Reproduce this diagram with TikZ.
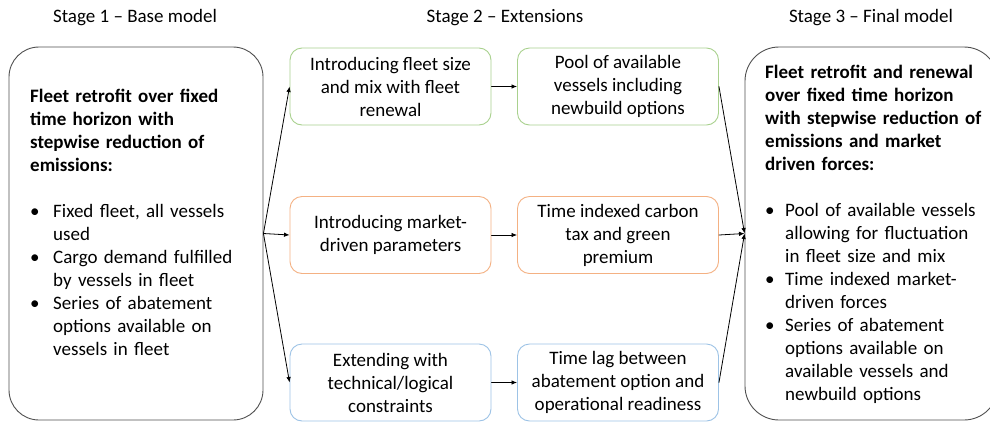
\documentclass[tikz,border=0pt]{standalone}
\usepackage{fontspec}
\setmainfont{Carlito}
\usetikzlibrary{arrows.meta,positioning}

\definecolor{boxgreen}{RGB}{169,209,142}
\definecolor{boxorange}{RGB}{244,177,131}
\definecolor{boxblue}{RGB}{157,195,230}
\definecolor{stageline}{RGB}{80,80,80}

% bullet paragraph with hanging indent (use \newline inside)
\newcommand{\bulletline}[2][20pt]{\par\hangindent=#1\hangafter=1\noindent\makebox[#1][l]{\textbullet}#2}

\begin{document}
\begin{tikzpicture}[x=1pt, y=-1pt, >={Latex[length=5.5pt,width=4.5pt]},
  line cap=round, line join=round,
  stagebox/.style={draw=stageline, line width=0.9pt, rounded corners=30pt,
    minimum width=#1, minimum height=373pt, inner sep=0pt},
  extbox/.style={draw=#1, line width=0.9pt, rounded corners=12pt,
    minimum width=201pt, minimum height=77pt, inner sep=0pt, align=center,
    font=\fontsize{19}{23}\selectfont},
  stagetitle/.style={font=\fontsize{19}{23}\selectfont},
  bodytext/.style={anchor=north west, inner sep=0pt, text width=260pt,
    align=left, font=\fontsize{19}{23}\selectfont\setlength{\parindent}{0pt}},
  flow/.style={->, line width=0.8pt}]

% ----------------------------
% CANVAS
% ----------------------------
\fill[white] (0,0) rectangle (990,421);
\useasboundingbox (0,0) rectangle (990,421);

% ----------------------------
% STAGE TITLES
% ----------------------------
\node[stagetitle] (title1) at (135,18) {Stage 1 -- Base model};
\node[stagetitle] (title2) at (505,18) {Stage 2 -- Extensions};
\node[stagetitle] (title3) at (871,18) {Stage 3 -- Final model};

% ----------------------------
% STAGE 1 (base model)
% ----------------------------
\node[stagebox=254pt] (base) at (136,233.5) {};
\node[bodytext] (basetext) at (30,89)
  {\textbf{Fleet retrofit over fixed\\ time horizon with\\ stepwise reduction of\\ emissions:}\par
   \vspace{23pt}
   \bulletline[23pt]{Fixed fleet, all vessels\newline used}
   \bulletline[23pt]{Cargo demand fulfilled\newline by vessels in fleet}
   \bulletline[23pt]{Series of abatement\newline options available on\newline vessels in fleet}\par};

% ----------------------------
% STAGE 2 (extensions)
% ----------------------------
\node[extbox=boxgreen] (fleetA) at (390.5,86.5)
  {Introducing fleet size\\ and mix with fleet\\ renewal};
\node[extbox=boxgreen] (fleetB) at (618,86.5)
  {Pool of available\\ vessels including\\ newbuild options};

\node[extbox=boxorange] (marketA) at (390.5,235)
  {Introducing market-\\ driven parameters};
\node[extbox=boxorange] (marketB) at (618,235)
  {Time indexed carbon\\ tax and green\\ premium};

\node[extbox=boxblue] (techA) at (390.5,382.5)
  {Extending with\\ technical/logical\\ constraints};
\node[extbox=boxblue] (techB) at (618,382.5)
  {Time lag between\\ abatement option and\\ operational readiness};

% ----------------------------
% STAGE 3 (final model)
% ----------------------------
\node[stagebox=253pt, rounded corners=34pt] (final) at (871.5,233.5) {};
\node[bodytext] (finaltext) at (765,65)
  {\textbf{Fleet retrofit and renewal\\ over fixed time horizon\\ with stepwise reduction of\\ emissions and market\\ driven forces:}\par
   \vspace{23pt}
   \bulletline{Pool of available vessels\newline allowing for fluctuation\newline in fleet size and mix}
   \bulletline{Time indexed market-\newline driven forces}
   \bulletline{Series of abatement\newline options available on\newline available vessels and\newline newbuild options}\par};

% ----------------------------
% CONNECTORS
% ----------------------------
\coordinate (split) at (base.east);
\coordinate (merge) at (final.west);

\draw[flow] (split) -- (fleetA.west);
\draw[flow] (split) -- (marketA.west);
\draw[flow] (split) -- (techA.west);

\draw[flow] (fleetA) -- (fleetB);
\draw[flow] (marketA) -- (marketB);
\draw[flow] (techA) -- (techB);

\draw[flow] (fleetB.east) -- (merge);
\draw[flow] (marketB.east) -- (merge);
\draw[flow] (techB.east) -- (merge);

\end{tikzpicture}
\end{document}
